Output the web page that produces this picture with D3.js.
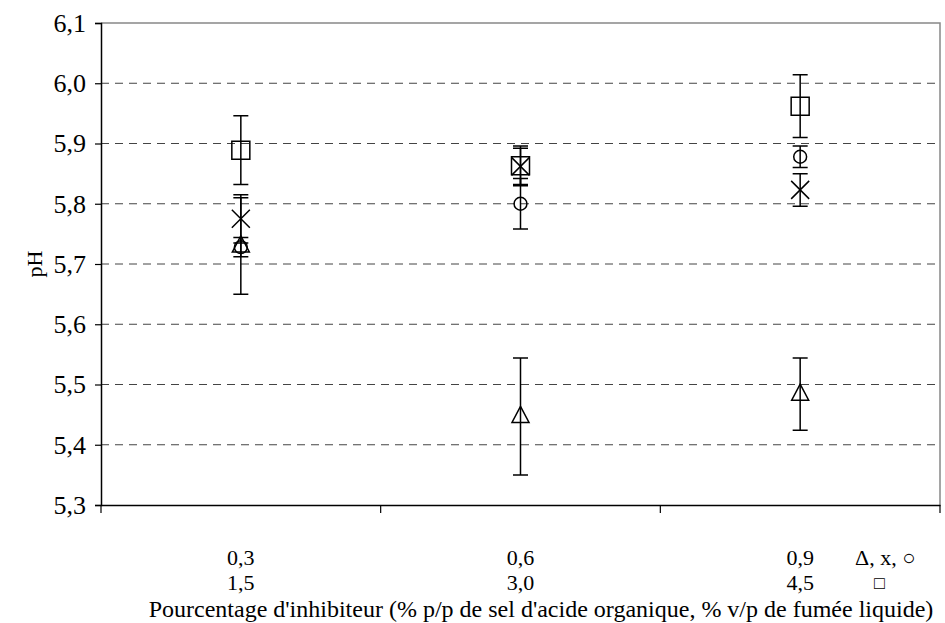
<!DOCTYPE html>
<html><head><meta charset="utf-8">
<script src="https://cdn.jsdelivr.net/npm/d3@7"></script>
<style>body{margin:0;background:#fff}svg{display:block}</style>
</head><body><svg id="c" width="945" height="623"></svg>
<script>
const categories = ["0,3", "0,6", "0,9"];
const categories2 = ["1,5", "3,0", "4,5"];
const yTicks = [5.3, 5.4, 5.5, 5.6, 5.7, 5.8, 5.9, 6.0, 6.1];
const triangleVals = [5.730, 5.447, 5.484];
const triangleErr = [0.080, 0.097, 0.060];
const crossVals = [5.775, 5.862, 5.823];
const crossErr = [0.040, 0.030, 0.027];
const circleVals = [5.728, 5.800, 5.878];
const circleErr = [0.016, 0.042, 0.018];
const squareVals = [5.889, 5.863, 5.962];
const squareErr = [0.057, 0.033, 0.052];

const svg = d3.select("#c");
const L = 101, R = 940, T = 23, B = 505;
const x = d3.scaleBand().domain(categories).range([L, R]);
const y = d3.scaleLinear().domain([5.3, 6.1]).range([B, T]);
const font = "'Liberation Serif','Times New Roman',serif";

// grid
svg.append("g").selectAll("line").data(yTicks.filter(v => v > 5.3 && v < 6.1)).join("line")
  .attr("x1", L).attr("x2", R).attr("y1", d => y(d)).attr("y2", d => y(d))
  .attr("stroke", "#444").attr("stroke-width", 1).attr("stroke-dasharray", "8,6");
// plot border top/right
svg.append("path").attr("d", `M${L},${T}H${R}V${B}`).attr("fill", "none").attr("stroke", "#888").attr("stroke-width", 1.5);

// y axis
const ya = svg.append("g").attr("transform", `translate(${L},0)`)
  .call(d3.axisLeft(y).tickValues(yTicks).tickSize(6).tickPadding(9).tickFormat(d => d3.format(".1f")(d).replace(".", ",")));
ya.select(".domain").attr("stroke", "#000").attr("stroke-width", 1.5);
ya.selectAll(".tick line").attr("stroke", "#000").attr("stroke-width", 1.2);
ya.selectAll("text").attr("font-family", font).attr("font-size", 26).attr("fill", "#000");

// x axis
const xa = svg.append("g").attr("transform", `translate(0,${B})`)
  .call(d3.axisBottom(x).tickSize(0).tickFormat(""));
xa.select(".domain").attr("stroke", "#000").attr("stroke-width", 1.5);
const bounds = [L].concat(categories.map(c => x(c) + x.bandwidth()));
svg.append("g").selectAll("line").data(bounds).join("line")
  .attr("x1", d => d).attr("x2", d => d).attr("y1", B).attr("y2", B + 8)
  .attr("stroke", "#000").attr("stroke-width", 1.2);

const cx = c => x(c) + x.bandwidth() / 2;
const r1 = 565, r2 = 590;
svg.append("g").selectAll("text").data(categories).join("text")
  .attr("x", cx).attr("y", r1).attr("text-anchor", "middle")
  .attr("font-family", font).attr("font-size", 22).text(d => d);
svg.append("g").selectAll("text").data(categories2).join("text")
  .attr("x", (d, i) => cx(categories[i])).attr("y", r2).attr("text-anchor", "middle")
  .attr("font-family", font).attr("font-size", 22).text(d => d);
svg.append("text").attr("x", 855).attr("y", r1)
  .attr("font-family", font).attr("font-size", 22).text("Δ,  x, ○");
svg.append("text").attr("x", 874).attr("y", r2 - 1)
  .attr("font-family", font).attr("font-size", 18).text("□");
svg.append("text").attr("x", 541).attr("y", 617).attr("text-anchor", "middle")
  .attr("font-family", font).attr("font-size", 24).text("Pourcentage d'inhibiteur (% p/p de sel d'acide organique, % v/p de fumée liquide)");
svg.append("text").attr("transform", `translate(42,${(T + B) / 2}) rotate(-90)`).attr("text-anchor", "middle")
  .attr("font-family", font).attr("font-size", 22).text("pH");

// series
const series = [
  {vals: triangleVals, err: triangleErr, shape: "tri"},
  {vals: crossVals, err: crossErr, shape: "x"},
  {vals: circleVals, err: circleErr, shape: "circle"},
  {vals: squareVals, err: squareErr, shape: "square"}
];
const shapePath = {
  tri: "M0,-10L8.5,6L-8.5,6Z",
  x: "M-9,-9L9,9M-9,9L9,-9",
  circle: d3.symbol(d3.symbolCircle, 130)(),
  square: "M-9,-9H9V9H-9Z"
};
series.forEach(s => {
  const g = svg.append("g");
  const d = categories.map((c, i) => ({c, v: s.vals[i], e: s.err[i]}));
  g.selectAll("path.eb").data(d).join("path").attr("class", "eb")
    .attr("d", p => `M${cx(p.c)},${y(p.v + p.e)}V${y(p.v - p.e)}M${cx(p.c) - 7.5},${y(p.v + p.e)}h15M${cx(p.c) - 7.5},${y(p.v - p.e)}h15`)
    .attr("stroke", "#000").attr("stroke-width", 1.5).attr("fill", "none");
  g.selectAll("path.mk").data(d).join("path").attr("class", "mk")
    .attr("transform", p => `translate(${cx(p.c)},${y(p.v)})`)
    .attr("d", shapePath[s.shape])
    .attr("stroke", "#000").attr("stroke-width", 1.5).attr("fill", "none");
});
</script></body></html>
